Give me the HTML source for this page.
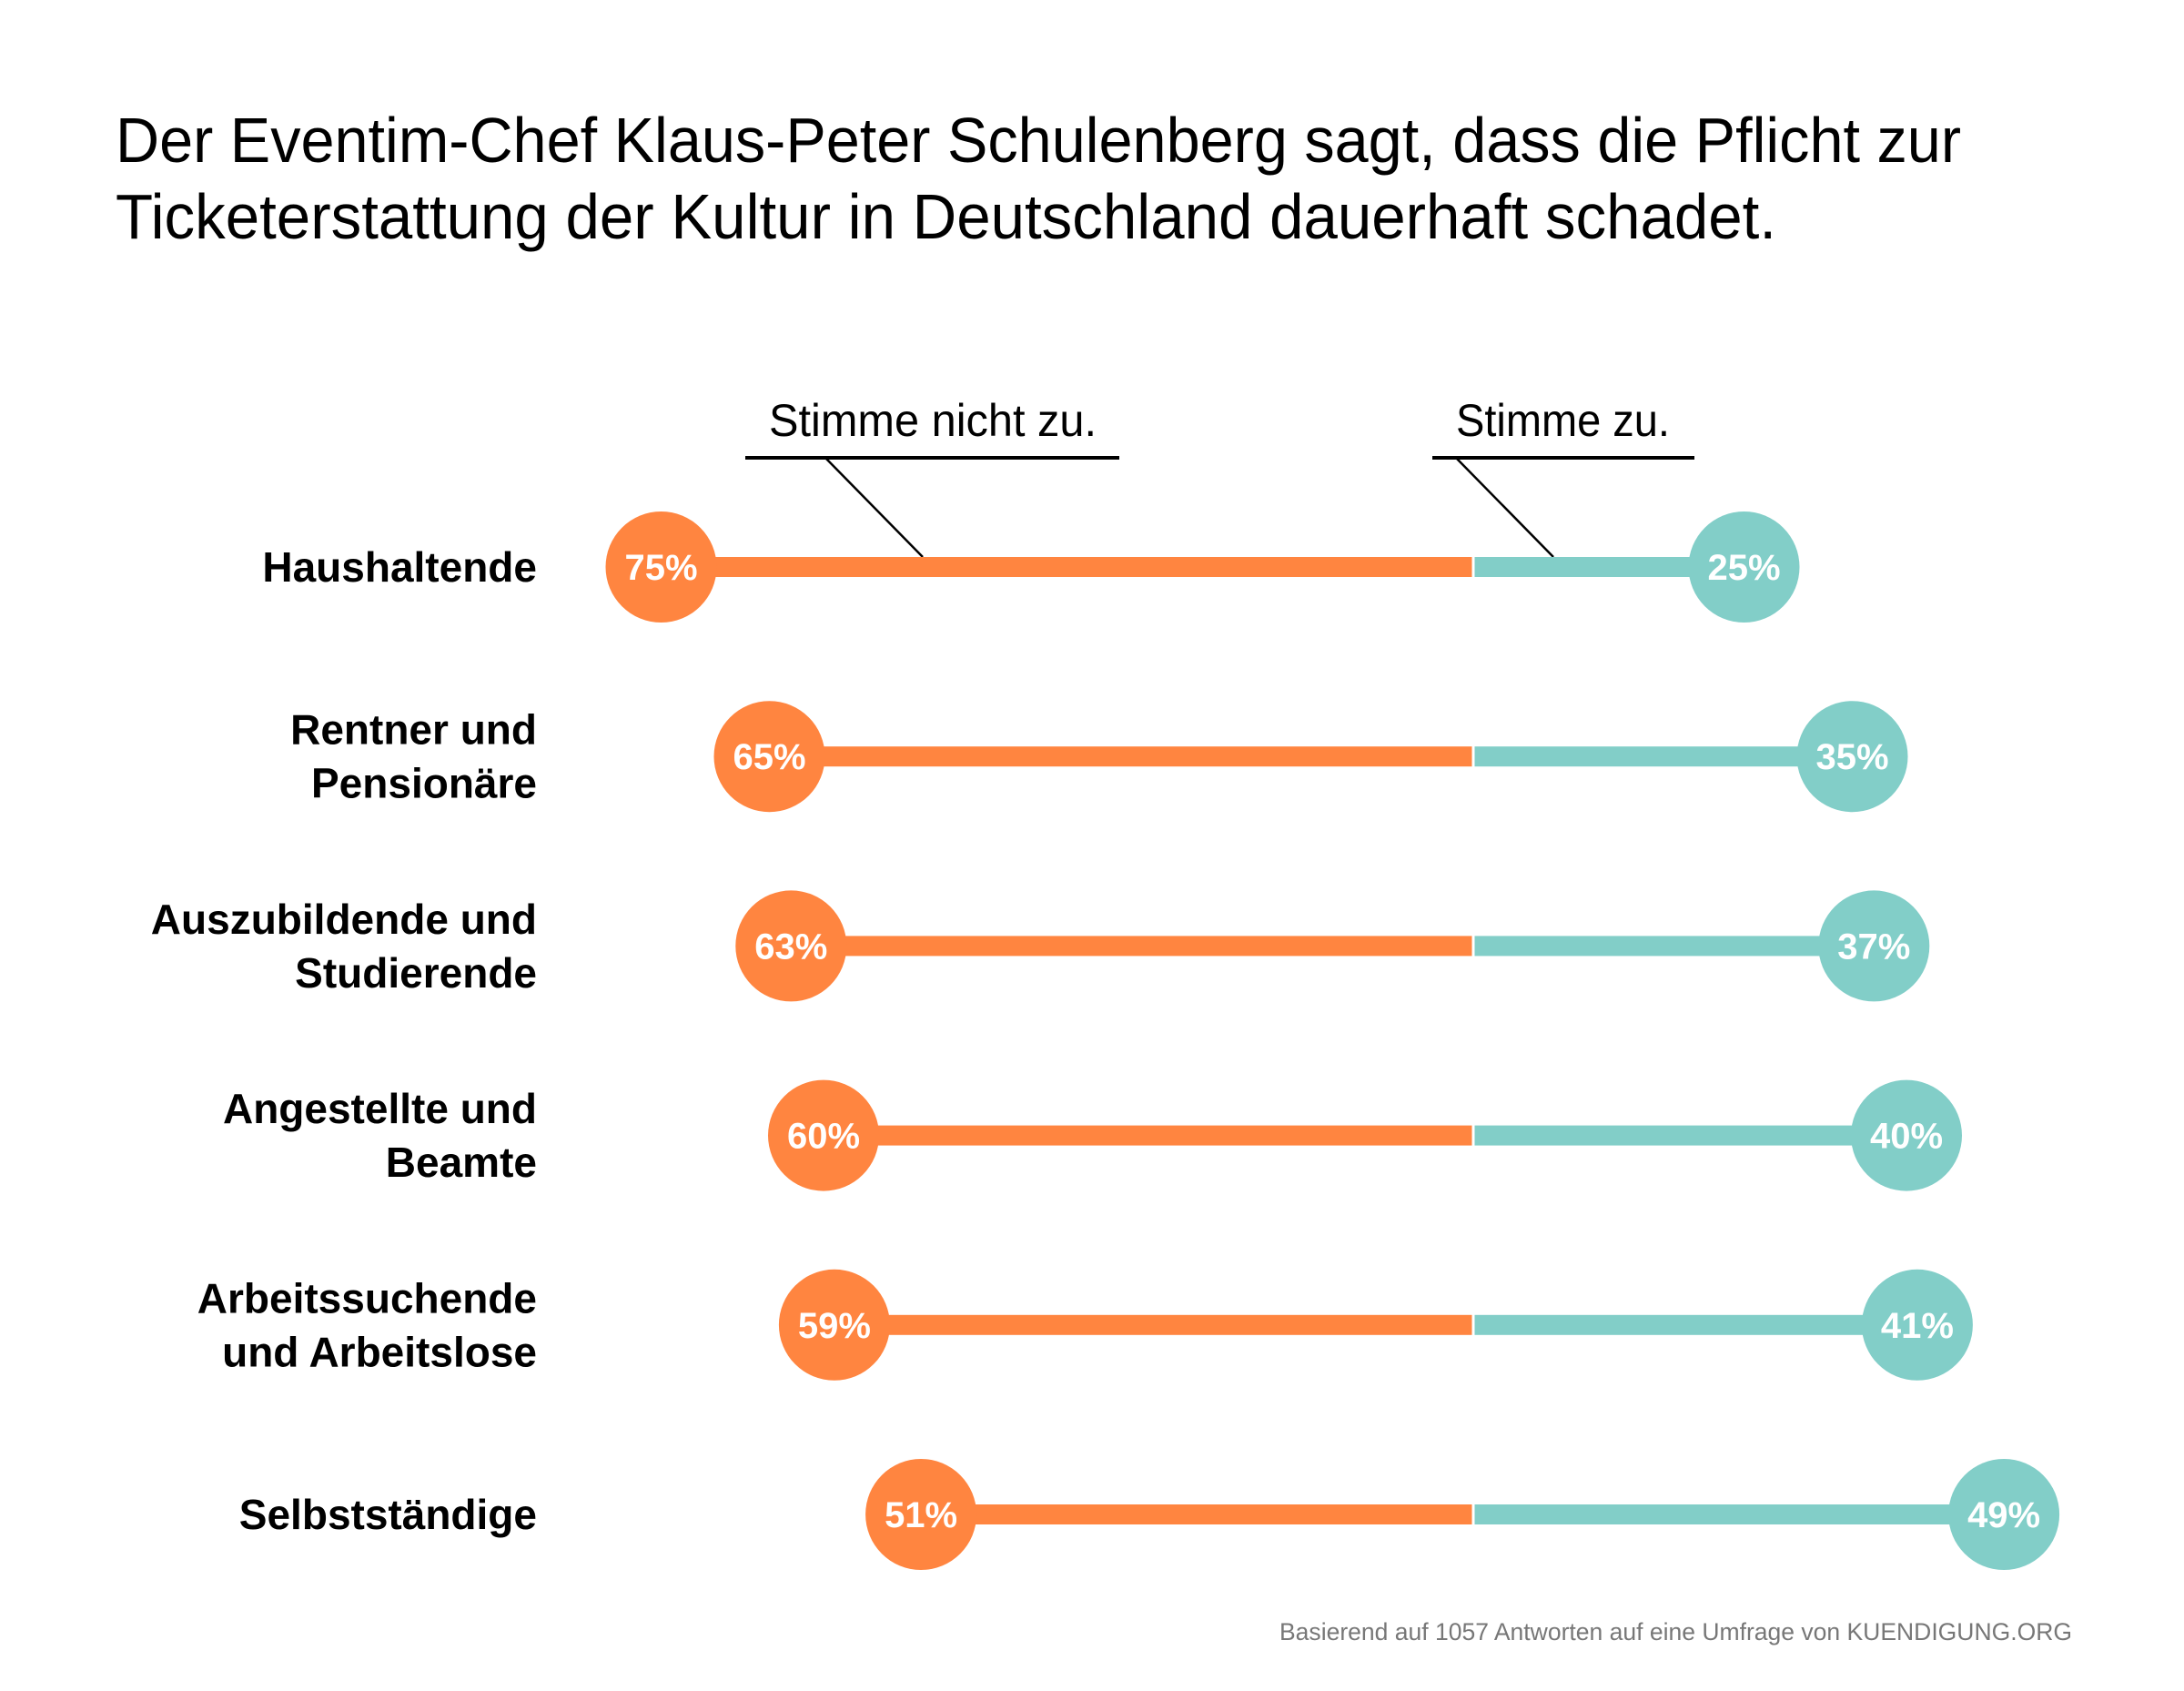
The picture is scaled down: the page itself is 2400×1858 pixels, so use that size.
<!DOCTYPE html>
<html><head><meta charset="utf-8"><style>
html,body{margin:0;padding:0;background:#fff;}
svg{display:block;}
</style></head><body>
<svg id="chart" width="2400" height="1858" viewBox="0 0 2400 1858" xmlns="http://www.w3.org/2000/svg">
<rect width="2400" height="1858" fill="#fff"/>
<g font-family="Liberation Sans, sans-serif" font-size="70" fill="#000">
<text x="127" y="178" textLength="2028" lengthAdjust="spacingAndGlyphs">Der Eventim-Chef Klaus-Peter Schulenberg sagt, dass die Pflicht zur</text>
<text x="127" y="262" textLength="1825" lengthAdjust="spacingAndGlyphs">Ticketerstattung der Kultur in Deutschland dauerhaft schadet.</text>
</g>
<g>
<text x="845" y="479" font-family="Liberation Sans, sans-serif" font-size="50" textLength="360" lengthAdjust="spacingAndGlyphs">Stimme nicht zu.</text>
<line x1="819" y1="503" x2="1230" y2="503" stroke="#000" stroke-width="4"/>
<line x1="907" y1="503" x2="1014" y2="612" stroke="#000" stroke-width="2.5"/>
</g>
<g>
<text x="1600" y="479" font-family="Liberation Sans, sans-serif" font-size="50" textLength="235" lengthAdjust="spacingAndGlyphs">Stimme zu.</text>
<line x1="1574" y1="503" x2="1862" y2="503" stroke="#000" stroke-width="4"/>
<line x1="1600" y1="503" x2="1707" y2="612" stroke="#000" stroke-width="2.5"/>
</g>
<g id="rows"></g>
<text x="2277" y="1802" text-anchor="end" font-family="Liberation Sans, sans-serif" font-size="27" fill="#777" textLength="871" lengthAdjust="spacingAndGlyphs">Basierend auf 1057 Antworten auf eine Umfrage von KUENDIGUNG.ORG</text>
</svg>
<script>
const categories = [["Haushaltende"],["Rentner und","Pensionäre"],["Auszubildende und","Studierende"],["Angestellte und","Beamte"],["Arbeitssuchende","und Arbeitslose"],["Selbstständige"]];
const disagree = [75,65,63,60,59,51];
const agree = [25,35,37,40,41,49];
const NS="http://www.w3.org/2000/svg";
const cx=1619, pxPer=11.9, y0=623, dy=208.2, R=61;
const xScale=v=>v*pxPer;
const yScale=i=>y0+i*dy;
const g=document.getElementById('rows');
function mk(tag,attrs){const e=document.createElementNS(NS,tag);for(const k in attrs)e.setAttribute(k,attrs[k]);return e;}
categories.forEach((lab,i)=>{
  const y=yScale(i);
  const xl=cx-xScale(disagree[i]), xr=cx+xScale(agree[i]);
  const row=mk('g',{});
  
  
  const b1=mk('rect',{x:xl,y:y-11,width:cx-xl,height:22,fill:'#FF8540'});
  
  
  const b2=mk('rect',{x:cx,y:y-11,width:xr-cx,height:22,fill:'#82CEC8'});
  
  
  const d=mk('line',{x1:cx,x2:cx,y1:y-12,y2:y+12,stroke:'#fff','stroke-width':3});
  const c1=mk('circle',{cx:xl,cy:y,r:R,fill:'#FF8540'});
  
  
  const c2=mk('circle',{cx:xr,cy:y,r:R,fill:'#82CEC8'});
  
  
  row.append(b1,b2,d,c1,c2);
  [[xl,disagree[i]],[xr,agree[i]]].forEach(([x,v])=>{
    const t=mk('text',{x:x,y:y+14,'text-anchor':'middle','font-family':'Liberation Sans, sans-serif','font-weight':'bold','font-size':40,fill:'#fff'});
    
    
    t.textContent=v+'%';row.append(t);
  });
  const n=lab.length;
  lab.forEach((s,j)=>{
    const ly=y+16+(j-(n-1)/2)*59;
    const t=mk('text',{x:590,y:ly,'text-anchor':'end','font-family':'Liberation Sans, sans-serif','font-weight':'bold','font-size':46,fill:'#000'});
    
    
    t.textContent=s;row.append(t);
  });
  g.append(row);
});
</script>
</body></html>
